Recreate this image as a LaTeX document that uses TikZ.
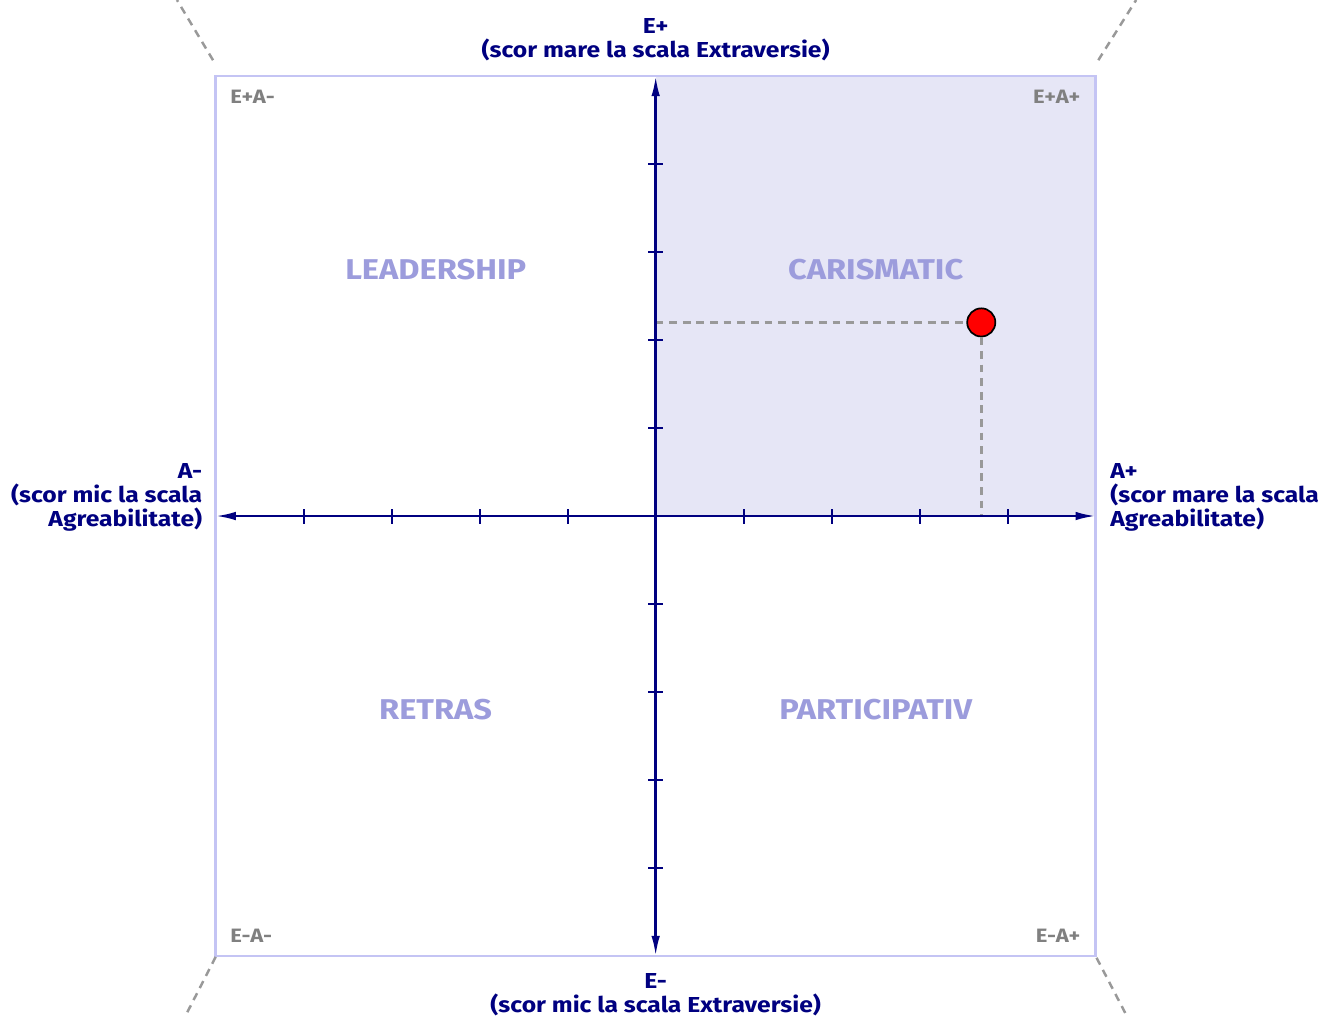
\documentclass[tikz,border=0pt]{standalone}
\usepackage{fontspec}
\setmainfont{Fira Sans}[FakeStretch=1.14]
\usetikzlibrary{arrows.meta}

\definecolor{axisblue}{RGB}{0,0,128}
\definecolor{boxlav}{RGB}{196,196,244}
\definecolor{quadlav}{RGB}{230,230,246}
\definecolor{quadtext}{RGB}{156,156,220}
\definecolor{cornergray}{RGB}{128,128,128}
\definecolor{guidegray}{RGB}{153,153,153}

\tikzset{
  axis/.style={draw=axisblue, line width=1.6pt, {Latex[length=13pt,width=5.5pt]}-{Latex[length=13pt,width=5.5pt]}},
  tickmark/.style={draw=axisblue, line width=1.2pt},
  boxline/.style={draw=boxlav, line width=1.6pt},
  guide/.style={draw=guidegray, line width=1.6pt, dash pattern=on 5pt off 3.8pt},
  axislabel/.style={text=axisblue, font=\fontsize{14}{15.5}\selectfont\bfseries, inner sep=0pt},
  quadlabel/.style={text=quadtext, font=\fontsize{18.5}{22}\selectfont\bfseries, inner sep=0pt},
  cornerlabel/.style={text=cornergray, font=\fontsize{12.5}{14}\selectfont\bfseries, inner sep=0pt},
  dot/.style={circle, fill=red, draw=black, line width=1.1pt, minimum size=0.32cm*2, inner sep=0pt}
}

\begin{document}
\begin{tikzpicture}[x=2cm,y=2cm]
\useasboundingbox (-7.451,-5.693) rectangle (7.572,5.864);

\coordinate (O) at (0,0);
\coordinate (N) at (0,5);
\coordinate (S) at (0,-5);
\coordinate (W) at (-5,0);
\coordinate (E) at (5,0);

% quadrant E+A+
\fill[quadlav] (O) rectangle (5,5);
\draw[boxline] (-5,-5) rectangle (5,5);

% corner guides
\draw[guide] (-5.03,5.18) -- (-5.44,5.864);
\draw[guide] (5.03,5.18) -- (5.46,5.864);
\draw[guide] (-5.0,-5.01) -- (-5.35,-5.693);
\draw[guide] (5.01,-5.02) -- (5.36,-5.693);

% ticks
\foreach \i in {-4,...,4} {
  \draw[tickmark] (\i,-0.085) -- (\i,0.085);
  \draw[tickmark] (-0.085,\i) -- (0.085,\i);
}

% score
\node[dot] (pt) at (3.7,2.2) {};
\coordinate (ptx) at (3.7,0);
\coordinate (pty) at (0,2.2);
\draw[guide] (pty) -- (pt.west);
\draw[guide] (pt.south) -- (ptx);

\draw[axis] (W) -- (E);
\draw[axis] (S) -- (N);

% axis labels
\node[axislabel, align=center] (eplus) at (0,5.41) {E+\\(scor mare la scala Extraversie)};
\node[axislabel, align=center] (eminus) at (0,-5.445) {E-\\(scor mic la scala Extraversie)};
\node[axislabel, align=right, anchor=east] (aminus) at (-5.15,0.216) {A-\\(scor mic la scala\\Agreabilitate)};
\node[axislabel, align=left, anchor=west] (aplus) at (5.163,0.216) {A+\\(scor mare la scala\\Agreabilitate)};

% quadrants
\node[quadlabel] (lead) at (-2.5,2.8) {LEADERSHIP};
\node[quadlabel] (caris) at (2.5,2.8) {CARISMATIC};
\node[quadlabel] (retras) at (-2.5,-2.2) {RETRAS};
\node[quadlabel] (partic) at (2.5,-2.2) {PARTICIPATIV};

% corners
\node[cornerlabel, anchor=west] (epam) at (-4.837,4.761) {E+A-};
\node[cornerlabel, anchor=east] (epap) at (4.829,4.761) {E+A+};
\node[cornerlabel, anchor=west] (emam) at (-4.837,-4.773) {E-A-};
\node[cornerlabel, anchor=east] (emap) at (4.829,-4.773) {E-A+};
\end{tikzpicture}
\end{document}
